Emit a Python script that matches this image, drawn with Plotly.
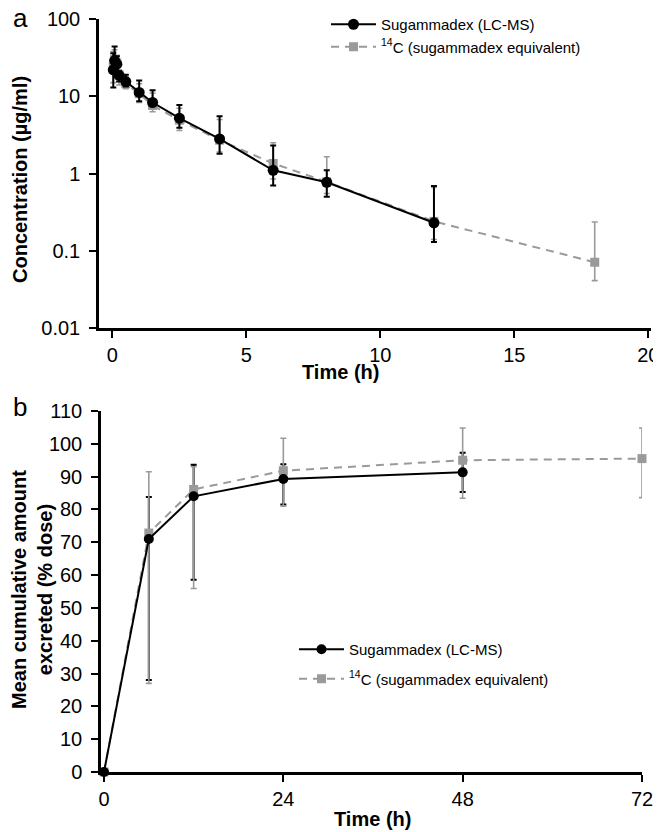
import plotly.graph_objects as go

# ---- panel a: plasma concentration (log scale) ----
t_lcms = [0.033, 0.083, 0.167, 0.25, 0.5, 1, 1.5, 2.5, 4, 6, 8, 12]
conc_lcms = [22, 29, 26, 18.6, 15.5, 11.2, 8.3, 5.2, 2.8, 1.1, 0.77, 0.23]
conc_lcms_hi = [36, 44, 33, 21, 19, 16, 12, 7.7, 5.5, 2.3, 1.1, 0.69]
conc_lcms_lo = [13, 20, 20, 15.5, 13.4, 8.6, 7.9, 3.9, 1.8, 0.7, 0.5, 0.13]

t_c14 = [0.033, 0.083, 0.167, 0.25, 0.5, 1, 1.5, 2.5, 4, 6, 8, 12, 18]
conc_c14 = [24, 30, 27, 19, 14.5, 10.8, 7.6, 4.9, 2.7, 1.35, 0.78, 0.24, 0.071]
conc_c14_hi = [38, 40, 34, 22, 18, 14.5, 11, 7, 5, 2.5, 1.65, 0.66, 0.236]
conc_c14_lo = [15, 21, 20, 14, 12.5, 8.3, 6.3, 3.6, 1.9, 0.85, 0.55, 0.14, 0.041]

# ---- panel b: cumulative excretion ----
tb_lcms = [0, 6, 12, 24, 48]
cum_lcms = [0, 71, 84, 89.3, 91.3]
cum_lcms_hi = [0, 83.8, 93.6, 93.8, 97.3]
cum_lcms_lo = [0, 28, 58.6, 81.5, 85.3]

tb_c14 = [0, 6, 12, 24, 48, 72]
cum_c14 = [0, 72.8, 86.1, 91.8, 95, 95.5]
cum_c14_hi = [0, 91.5, 93, 101.7, 104.8, 104.8]
cum_c14_lo = [0, 27, 55.9, 81, 83.4, 83.6]

name_lcms = "Sugammadex (LC-MS)"
name_c14 = "<sup>14</sup>C (sugammadex equivalent)"

FONT = "Liberation Sans, Arial, sans-serif"
GRAY = "#9a9a9a"
# the page body has an 8px margin, so the figure is 8px smaller and positions are shifted
OFF = 8
W, H = 661 - OFF, 832 - OFF


def px(x):
    return (x - OFF) / W


def py(y):
    return 1 - (y - OFF) / H


def err(vals, hi, lo, color, thick):
    return dict(type="data", symmetric=False, color=color, thickness=thick, width=3,
                array=[h - v for v, h in zip(vals, hi)],
                arrayminus=[v - l for v, l in zip(vals, lo)])


fig = go.Figure()

# panel a: gray first, black on top
fig.add_trace(go.Scatter(x=t_c14, y=conc_c14, name=name_c14, mode="lines+markers",
                         line=dict(color=GRAY, width=2, dash="8px,6px"),
                         marker=dict(symbol="square", size=9, color=GRAY),
                         error_y=err(conc_c14, conc_c14_hi, conc_c14_lo, GRAY, 1.6),
                         xaxis="x", yaxis="y", legend="legend", legendrank=2))
fig.add_trace(go.Scatter(x=t_lcms, y=conc_lcms, name=name_lcms, mode="lines+markers",
                         line=dict(color="black", width=2),
                         marker=dict(symbol="circle", size=11, color="black"),
                         error_y=err(conc_lcms, conc_lcms_hi, conc_lcms_lo, "black", 2),
                         xaxis="x", yaxis="y", legend="legend", legendrank=1))

# panel b: black error bars sit under the gray ones
fig.add_trace(go.Scatter(x=tb_lcms, y=cum_lcms, mode="markers", showlegend=False,
                         marker=dict(size=1, color="black"), hoverinfo="skip",
                         error_y=err(cum_lcms, cum_lcms_hi, cum_lcms_lo, "black", 2),
                         xaxis="x2", yaxis="y2", cliponaxis=False))
fig.add_trace(go.Scatter(x=tb_c14, y=cum_c14, name=name_c14, mode="lines+markers",
                         line=dict(color=GRAY, width=2, dash="8px,6px"),
                         marker=dict(symbol="square", size=9, color=GRAY),
                         error_y=err(cum_c14, cum_c14_hi, cum_c14_lo, GRAY, 1.6),
                         xaxis="x2", yaxis="y2", legend="legend2", legendgroup="c14",
                         legendrank=2, cliponaxis=False))
fig.add_trace(go.Scatter(x=tb_lcms, y=cum_lcms, name=name_lcms, mode="lines+markers",
                         line=dict(color="black", width=2),
                         marker=dict(symbol="circle", size=10, color="black"),
                         xaxis="x2", yaxis="y2", legend="legend2", legendgroup="lcms",
                         legendrank=1, cliponaxis=False))

axis_common = dict(showline=True, linecolor="black", linewidth=2.5, ticks="outside",
                   ticklen=7, tickwidth=2, tickcolor="black", showgrid=False,
                   zeroline=False, automargin=False,
                   tickfont=dict(size=20, color="black", family=FONT))
legend_common = dict(xanchor="left", yanchor="top", font=dict(size=15, family=FONT),
                     bgcolor="rgba(0,0,0,0)", itemwidth=45)


def label(text, x, y, size=20, angle=0):
    return dict(text=text, x=px(x), y=py(y), xref="paper", yref="paper",
                showarrow=False, xanchor="center", yanchor="middle", textangle=angle,
                font=dict(size=size, family=FONT, color="black"))


fig.update_layout(
    width=W, height=H,
    margin=dict(l=0, r=0, t=0, b=0),
    paper_bgcolor="white", plot_bgcolor="white",
    font=dict(family=FONT, color="black"),
    xaxis=dict(domain=[px(99), px(651)], range=[-0.5, 20.1], tickvals=[0, 5, 10, 15, 20],
               anchor="y", **axis_common),
    yaxis=dict(domain=[py(328), py(19)], type="log", range=[-2, 2],
               tickvals=[0.01, 0.1, 1, 10, 100], ticktext=["0.01", "0.1", "1", "10", "100"],
               anchor="x", ticklabelstandoff=5, **axis_common),
    xaxis2=dict(domain=[px(101), px(642)], range=[-0.4, 72], tickvals=[0, 24, 48, 72],
                anchor="y2", **axis_common),
    yaxis2=dict(domain=[py(772), py(411)], range=[0, 110], dtick=10,
                anchor="x2", ticklabelstandoff=5, **axis_common),
    legend=dict(x=px(326), y=py(8), traceorder="normal", tracegroupgap=0,
                **legend_common),
    legend2=dict(x=px(294), y=py(633), traceorder="grouped", tracegroupgap=7,
                 **legend_common),
    annotations=[
        label("a", 20, 18, size=26),
        label("b", 20, 407, size=26),
        label("<b>Concentration (µg/ml)</b>", 20, 180, angle=-90),
        label("<b>Time (h)</b>", 340, 372),
        label("<b>Mean cumulative amount<br>excreted (% dose)</b>", 32, 590, angle=-90),
        label("<b>Time (h)</b>", 372, 819),
    ],
)

fig.write_html("out.html")
